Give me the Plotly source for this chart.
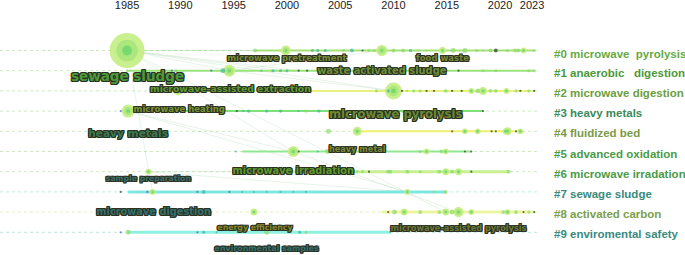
import numpy as np
import plotly.graph_objects as go

# ---------------- data ----------------
tick_years = [1985, 1990, 1995, 2000, 2005, 2010, 2015, 2020, 2023]

cluster_ids = ["#0", "#1", "#2", "#3", "#4", "#5", "#6", "#7", "#8", "#9"]
cluster_names = ["microwave\u00a0 pyrolysis", "anaerobic\u00a0\u00a0 digestion", "microwave digestion",
                 "heavy metals", "fluidized bed", "advanced oxidation", "microwave irradation",
                 "sewage sludge", "activated carbon", "enviromental safety"]

# node years, frequencies and kind (g=green, t=teal, b=blue, k=dark) per cluster
c0_year = [1985.0, 1997.0, 1999.9, 2002.4, 2002.9, 2003.6, 2005.3, 2006.1, 2007.1, 2007.7, 2008.2, 2008.9,
           2010.0, 2010.9, 2011.6, 2012.3, 2013.1, 2014.6, 2015.6, 2016.7, 2017.8, 2018.4, 2019.1, 2019.6,
           2020.7, 2021.4, 2021.7, 2022.2, 2023.2]
c0_freq = [253, 3, 21, 2, 2, 2, 2, 3, 1, 2, 2, 25, 3, 3, 2, 1, 1, 10, 5, 5, 2, 1, 3, 3, 2, 3, 3, 7, 2]
c0_kind = "gggtttgtkgggggtggggggggkggggg"

c1_year = [1985.0, 1989.2, 1989.6, 1992.9, 1994.0, 1994.6, 1997.6, 1998.7, 1999.4, 2000.0, 2001.1, 2001.9,
           2016.1, 2018.4, 2019.6, 2022.7, 2023.2]
c1_freq = [1, 1, 2, 1, 5, 30, 1, 2, 2, 2, 1, 1, 1, 2, 2, 2, 2]
c1_kind = "gbgbtgttttkkkgggg"

c2_year = [1989.8, 2008.4, 2009.5, 2010.0, 2010.8, 2011.3, 2011.9, 2012.5, 2013.1, 2013.8, 2014.9, 2015.5,
           2016.4, 2017.3, 2017.9, 2018.4, 2019.1, 2019.6, 2020.6, 2021.5, 2021.9, 2022.7, 2023.2]
c2_freq = [17, 2, 2, 60, 1, 1, 2, 2, 1, 1, 3, 1, 1, 7, 5, 13, 3, 3, 7, 2, 1, 2, 1]
c2_kind = "ggtgkgggkkgkkgggggggkgk"

c3_year = [1984.4, 1985.1, 1995.3, 1995.9, 1996.4, 1998.1, 1999.4, 2001.1, 2001.8, 2003.0, 2008.9, 2010.8, 2018.4]
c3_freq = [1, 35, 1, 1, 2, 2, 2, 1, 2, 2, 2, 2, 1]
c3_kind = "bgktttttgtggk"

c4_year = [2003.9, 2006.6, 2015.5, 2016.7, 2017.9, 2019.2, 2019.6, 2020.5, 2020.7, 2021.5, 2021.9]
c4_freq = [5, 17, 1, 7, 7, 1, 1, 7, 13, 1, 7]
c4_kind = "ggkggkkggkg"

c5_year = [1995.2, 2000.6, 2001.1, 2002.9, 2003.8, 2012.5, 2013.1, 2014.5, 2014.9, 2016.7, 2017.3]
c5_freq = [1, 25, 1, 1, 5, 2, 7, 3, 7, 1, 1]
c5_kind = "tgktgggggkk"

c6_year = [1987.0, 2006.6, 2007.1, 2007.7, 2009.5, 2009.7, 2011.3, 2012.5, 2014.3, 2014.9, 2015.5, 2016.1,
           2017.3, 2020.8]
c6_freq = [7, 2, 2, 1, 3, 3, 3, 2, 3, 10, 3, 10, 1, 3]
c6_kind = "gggkggggggggkg"

c7_year = [1984.4, 1986.9, 1987.4, 1991.6, 1992.2, 1994.6, 1995.8, 1996.9, 1998.1, 1999.4, 2000.6, 2001.8,
           2011.3, 2013.8, 2014.9]
c7_freq = [1, 1, 7, 1, 3, 1, 1, 1, 1, 1, 1, 1, 7, 1, 3]
c7_kind = "kbgbtbttttttggg"

c8_year = [1996.9, 2009.5, 2010.1, 2011.0, 2012.5, 2014.3, 2014.9, 2015.5, 2016.1, 2017.3, 2020.3, 2020.7,
           2021.5, 2022.2, 2022.7, 2023.2]
c8_freq = [10, 1, 5, 10, 3, 3, 10, 5, 21, 7, 3, 7, 3, 1, 2, 1]
c8_kind = "gkgggggggggggkgk"

c9_year = [1984.4, 1985.1, 1991.6, 1992.2, 1993.4, 1998.1, 2001.2, 2001.8, 2009.7]
c9_freq = [1, 5, 1, 2, 1, 5, 2, 2, 1]
c9_kind = "bgbttgtgt"

cluster_years = [c0_year, c1_year, c2_year, c3_year, c4_year, c5_year, c6_year, c7_year, c8_year, c9_year]
cluster_freqs = [c0_freq, c1_freq, c2_freq, c3_freq, c4_freq, c5_freq, c6_freq, c7_freq, c8_freq, c9_freq]
cluster_kinds = [c0_kind, c1_kind, c2_kind, c3_kind, c4_kind, c5_kind, c6_kind, c7_kind, c8_kind, c9_kind]

# time span of each cluster's solid timeline
span_start = [1997.0, 1985.0, 1989.8, 1985.1, 2006.6, 1995.8, 2000.0, 1985.1, 2008.9, 1985.1]
span_end = [2023.2, 2023.2, 2023.2, 2018.4, 2021.9, 2017.3, 2020.8, 2014.9, 2023.2, 2009.7]

# co-citation links: (cluster, year) -> (cluster, year)
link_from = [(0, 1985.0)] * 9 + [(1, 1994.6), (1, 1994.6), (3, 1985.1), (3, 1985.1), (6, 1987.0), (6, 1987.0), (5, 2000.6)]
link_to = [(1, 1994.6), (0, 1999.9), (0, 2008.9), (2, 2010.0), (5, 2000.6), (8, 2014.9), (1, 2001.1), (1, 1999.4),
           (7, 1987.4), (2, 2010.0), (0, 2008.9), (5, 2000.6), (7, 2011.3), (6, 2016.1), (7, 2011.3), (8, 2016.1)]

# keyword labels (anchor year, anchor row)
kw_text = ["sewage sludge", "microwave pretreatment", "food waste", "waste activated sludge",
           "microwave-assisted extraction", "microwave heating", "heavy metals", "microwave pyrolysis",
           "heavy metal", "microwave irradiation", "sample preparation", "microwave digestion",
           "energy efficiency", "environmental samples", "microwave-assisted pyrolysis"]
kw_year = [1985.05, 2000.0, 2014.6, 2008.9, 1994.7, 1989.9, 1985.1, 2010.2, 2006.6, 2000.6, 1987.0, 1987.5,
           1997.0, 1998.1, 2016.1]
kw_row = [1.36, 0.42, 0.42, 1.06, 1.93, 2.95, 4.13, 3.19, 4.90, 5.97, 6.36, 8.0, 8.79, 9.83, 8.84]

# ---------------- styles ----------------
kw_size = [13.5, 8.5, 8.5, 9.9, 9.3, 8.5, 10.6, 11.6, 8.2, 9.8, 7.7, 9.8, 7.8, 7.9, 8.2]
kw_color = ["#4c9a3c", "#7a8e34", "#7a8a34", "#6e8e3a", "#5f9a34", "#7a9434", "#3b7a4e", "#6b8a34",
            "#7a8a3a", "#5f9a2e", "#3f6e6a", "#35706a", "#8a8a2a", "#35706a", "#6a7a3a"]
line_color = ["#a6e07a", "#9be37d", "#e6f27a", "#7ee07a", "#f0f06a", "#90e890", "#c8f090", "#7ee8e0",
              "#eef5a0", "#8ef0e0"]
line_width = [2, 2, 2, 2, 2, 2, 3, 3, 3, 3]
dot_color = ["#cfe8c0"] * 7 + ["#bfe8e0", "#e4eec0", "#bfe8e0"]
name_color = ["#66aa44", "#4a9a3a", "#6aa040", "#3a8a5a", "#7a9a4a", "#4a9a4a", "#4a9a4a", "#3a8a7a",
              "#7aa04a", "#3a8a80"]
kind_color = {"g": "#8bdc6a", "t": "#3fb8a0", "b": "#4060c8", "k": "#2a3a2a"}

X0, X1 = 1973.08, 2037.35
Y_BOTTOM, Y_TOP = 10.124, -1.906

fig = go.Figure()

# dotted full-width guide lines
for i in range(10):
    fig.add_trace(go.Scatter(x=[X0, 2023.5], y=[i, i], mode="lines",
                             line=dict(color=dot_color[i], width=1, dash="dot"),
                             hoverinfo="skip", showlegend=False))

# faint links
for (ca, ya), (cb, yb) in zip(link_from, link_to):
    fig.add_trace(go.Scatter(x=[ya, yb], y=[ca, cb], mode="lines",
                             line=dict(color="rgba(120,190,130,0.18)", width=1),
                             hoverinfo="skip", showlegend=False))

# cluster timelines
for i in range(10):
    fig.add_trace(go.Scatter(x=[span_start[i], span_end[i]], y=[i, i], mode="lines",
                             line=dict(color=line_color[i], width=line_width[i]),
                             hoverinfo="skip", showlegend=False))

# nodes
for i in range(10):
    yrs = np.array(cluster_years[i], dtype=float)
    fr = np.array(cluster_freqs[i], dtype=float)
    kinds = list(cluster_kinds[i])[:len(yrs)]
    while len(kinds) < len(yrs):
        kinds.append("g")
    d = 2.2 * np.sqrt(fr)
    rows = np.full(len(yrs), i)
    order = np.argsort(-d)
    yrs, d, rows = yrs[order], d[order], rows[order]
    kinds = [kinds[j] for j in order]
    big = d >= 5.5
    if big.any():
        fig.add_trace(go.Scatter(x=yrs[big], y=rows[big], mode="markers",
                                 marker=dict(size=d[big], color="#c6ee84", opacity=0.92, line=dict(width=0)),
                                 hoverinfo="skip", showlegend=False))
        fig.add_trace(go.Scatter(x=yrs[big], y=rows[big], mode="markers",
                                 marker=dict(size=d[big] * 0.62, color="#a8e67c", opacity=0.9, line=dict(width=0)),
                                 hoverinfo="skip", showlegend=False))
        fig.add_trace(go.Scatter(x=yrs[big], y=rows[big], mode="markers",
                                 marker=dict(size=np.maximum(d[big] * 0.28, 2.5), color="#5fd46a", line=dict(width=0)),
                                 hoverinfo="skip", showlegend=False))
    small = ~big
    if small.any():
        cols = [kind_color[k] for k, s in zip(kinds, small) if s]
        fig.add_trace(go.Scatter(x=yrs[small], y=rows[small], mode="markers",
                                 marker=dict(size=d[small], color=cols, line=dict(width=0)),
                                 hoverinfo="skip", showlegend=False))

# keyword labels with dark outline
outline = "#2a3022"
shadow = ", ".join(f"{dx}px {dy}px 0 {outline}" for dx, dy in
                   [(-1, -1), (1, -1), (-1, 1), (1, 1), (0, 1), (0, -1), (1, 0), (-1, 0)])
for t, xv, yv, s, c in zip(kw_text, kw_year, kw_row, kw_size, kw_color):
    fig.add_trace(go.Scatter(x=[xv], y=[yv], mode="text", text=[t], textposition="middle center",
                             textfont=dict(family="DejaVu Sans", size=s, color=c, weight="bold", shadow=shadow),
                             cliponaxis=False, hoverinfo="skip", showlegend=False))

# cluster names on the right
annotations = []
for i in range(10):
    annotations.append(dict(x=2024.9, y=i, xref="x", yref="y", xanchor="left", yanchor="middle",
                            yshift=-3 if i == 0 else -2,
                            text=f"<b>{cluster_ids[i]}</b> {cluster_names[i]}", showarrow=False,
                            font=dict(family="Liberation Sans", size=11.5, color=name_color[i], weight="bold")))

fig.update_layout(
    width=685, height=255, margin=dict(l=0, r=0, t=12, b=0, autoexpand=False),
    paper_bgcolor="white", plot_bgcolor="white",
    annotations=annotations,
    xaxis=dict(range=[X0, X1], side="top", tickvals=tick_years, ticktext=[str(v) for v in tick_years],
               showgrid=False, zeroline=False, showline=False, ticks="", automargin=False,
               tickfont=dict(family="Liberation Sans", size=11, color="#222")),
    yaxis=dict(range=[Y_BOTTOM, Y_TOP], showgrid=False, zeroline=False, showline=False,
               showticklabels=False, ticks="", automargin=False),
)

fig.write_html("out.html", config={"displayModeBar": False},
               post_script="document.body.style.margin='0';document.body.style.overflow='hidden';")
